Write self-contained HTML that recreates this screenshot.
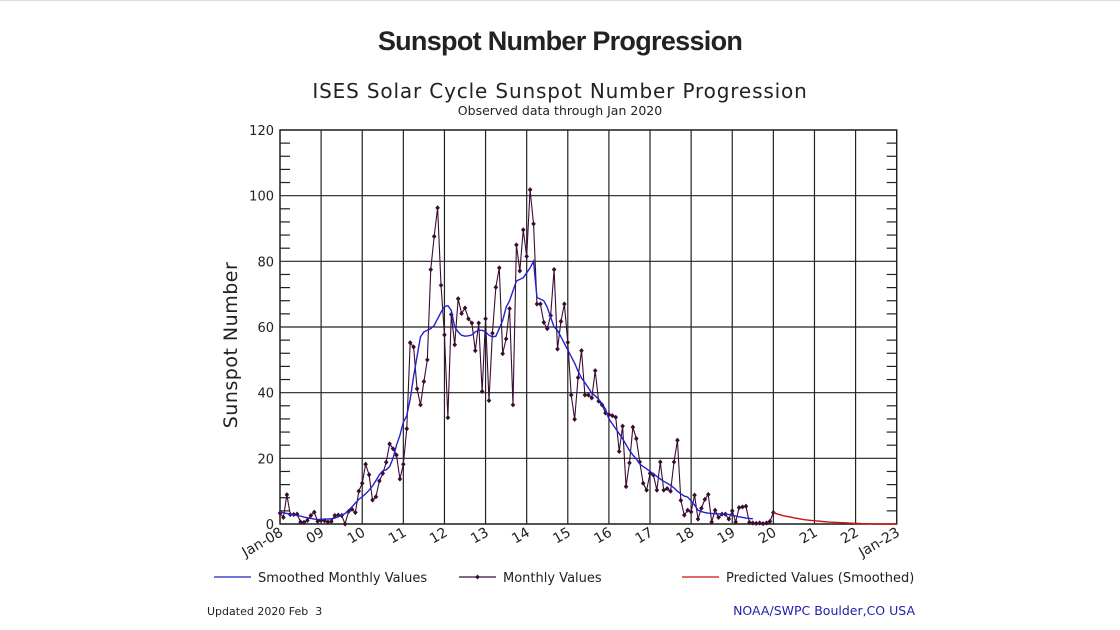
<!DOCTYPE html>
<html><head><meta charset="utf-8">
<style>
html,body{margin:0;padding:0;background:#fff;}
body{width:1120px;height:630px;overflow:hidden;position:relative;}
#topline{position:absolute;left:0;top:0;width:1120px;height:1px;background:#ddd;}
#title{position:absolute;left:0;top:26px;width:1120px;text-align:center;font:bold 27px "Liberation Sans",sans-serif;color:#222;letter-spacing:-0.7px;}
svg{position:absolute;left:0;top:0;}
svg text{font-family:"DejaVu Sans","Liberation Sans",sans-serif;}
</style></head><body>
<div id="topline"></div>
<div id="title">Sunspot Number Progression</div>
<svg id="chart" width="1120" height="630"></svg>
<script>
const yTicks=[0,20,40,60,80,100,120];
const xLabels=["Jan-08","09","10","11","12","13","14","15","16","17","18","19","20","21","22","Jan-23"];
const monthly=[3.3,2.0,8.9,2.9,2.9,3.0,0.6,0.5,1.1,2.6,3.6,0.8,
1.1,1.0,0.6,0.8,2.6,2.7,2.6,0.0,3.8,4.5,3.5,10.0,
12.4,18.2,15.0,7.3,8.3,13.1,15.4,18.8,24.4,22.9,21.0,13.7,
18.2,29.0,55.2,53.9,41.2,36.3,43.4,50.0,77.5,87.6,96.3,72.7,
57.6,32.4,63.8,54.6,68.6,64.1,65.8,62.5,61.2,52.8,61.2,40.4,
62.5,37.6,58.1,72.1,78.0,51.9,56.4,65.6,36.3,85.0,77.1,89.6,
81.5,101.8,91.4,67.0,67.0,61.4,59.5,63.5,77.5,53.3,61.7,67.0,
55.3,39.3,31.9,44.6,52.8,39.3,39.3,38.4,46.7,37.4,36.3,33.8,
33.3,33.0,32.5,22.1,29.8,11.4,18.6,29.5,26.0,18.9,12.4,10.3,
15.4,14.9,10.3,18.9,10.3,10.8,10.0,18.9,25.5,7.2,2.7,4.2,
3.7,8.8,1.5,4.8,7.5,9.0,0.6,4.2,2.0,3.0,3.0,1.5,
4.0,0.6,5.0,5.2,5.4,0.5,0.3,0.2,0.3,0.1,0.3,0.8,3.5];
const smoothed=[3.7,3.4,3.2,3.0,2.8,2.6,2.4,2.1,1.9,1.7,1.5,1.4,
1.4,1.5,1.5,1.6,1.8,2.2,2.7,3.2,4.2,5.2,6.4,7.5,
8.3,9.2,10.3,11.6,13.2,15.0,16.2,16.5,17.5,20,24,27,
31,33,38,45,51,57,58.5,59,59.5,60.5,62.5,64.5,
66.2,66.5,65,60,58.5,57.5,57.2,57.3,57.6,58.5,59,59,
58.5,57.5,57,57.2,59.5,62,66,68,71,74,74.5,75,
76.5,78,80,69,68.5,68,66,63,60,59,57,55,
53,51,49,46.5,44.5,43,41.5,39.8,39,38,36.6,35,
32,30.5,29,27.5,26,24.2,22.4,21,19.8,18.3,17.5,16.8,
16,15.3,14.5,13.7,13,12.4,11.8,11,10,9.2,8.5,8.2,
7,5.8,4.2,3.8,3.5,3.3,3.2,3.1,3.1,3.0,3.0,2.9,
2.6,2.4,2.2,2.0,1.8,1.7,1.6];
const predicted=[3.5,3.1,2.8,2.5,2.3,2.1,1.9,1.7,1.5,1.3,1.2,1.1,
1.0,0.9,0.8,0.7,0.6,0.55,0.5,0.45,0.4,0.35,0.3,0.25,
0.2,0.15,0.1,0.1,0.05,0.05,0,0,0,0,0,0,0];
const predStart=144;

const NS='http://www.w3.org/2000/svg';
const svg=document.getElementById('chart');
const L=280,R=896.7,T=130,B=524;
const x=m=>L+(R-L)*m/180;
const y=v=>B-(B-T)*v/120;
function el(tag,attrs,parent){const e=document.createElementNS(NS,tag);for(const k in attrs)e.setAttribute(k,attrs[k]);(parent||svg).appendChild(e);return e;}
function txt(s,attrs){const e=el('text',attrs);e.textContent=s;return e;}

let t;
t=txt('ISES Solar Cycle Sunspot Number Progression',{x:560,y:98,'text-anchor':'middle','font-size':20,fill:'#222','letter-spacing':'0.85'});


t=txt('Observed data through Jan 2020',{x:560,y:115,'text-anchor':'middle','font-size':12.5,fill:'#222'});



const g=el('g',{stroke:'#222','stroke-width':1.2,fill:'none'});


yTicks.forEach(v=>{el('line',{x1:L,x2:R,y1:y(v),y2:y(v)},g);});
for(let i=0;i<xLabels.length;i++){el('line',{x1:x(i*12),x2:x(i*12),y1:T,y2:B},g);}
for(let v=0;v<=120;v+=4){if(v%20===0)continue;el('line',{x1:L,x2:L+10,y1:y(v),y2:y(v)},g);el('line',{x1:R-10,x2:R,y1:y(v),y2:y(v)},g);}
el('rect',{x:L,y:T,width:R-L,height:B-T,'stroke-width':1.4},g);

yTicks.forEach(v=>{const e=txt(String(v),{x:274,y:y(v)+5,'text-anchor':'end','font-size':13,fill:'#222'});

});
xLabels.forEach((s,i)=>{const px=x(i*12)+4,py=535;const e=txt(s,{x:px,y:py,'text-anchor':'end','font-size':14,fill:'#222',transform:`rotate(-30 ${px} ${py})`});

});
t=txt('Sunspot Number',{x:237,y:345,'text-anchor':'middle','font-size':19,fill:'#222',transform:'rotate(-90 237 345)','letter-spacing':'0.5'});



let p=el('polyline',{points:monthly.map((v,i)=>x(i)+','+y(v)).join(' '),fill:'none',stroke:'#3a0c34','stroke-width':1.1});


const mk=el('g',{fill:'#3a0c34'});


monthly.forEach((v,i)=>{const cx=x(i),cy=y(v);const d=el('polygon',{points:`${cx},${cy-2.6} ${cx+2.3},${cy} ${cx},${cy+2.6} ${cx-2.3},${cy}`},mk);

});
p=el('polyline',{points:smoothed.map((v,i)=>x(i)+','+y(v)).join(' '),fill:'none',stroke:'#2222cc','stroke-width':1.4});


p=el('polyline',{points:predicted.map((v,i)=>x(predStart+i)+','+y(v)).join(' '),fill:'none',stroke:'#cc1111','stroke-width':1.4});



const lg=el('g',{});


el('line',{x1:214,x2:251,y1:577,y2:577,stroke:'#2222cc','stroke-width':1.3},lg);
t=txt('Smoothed Monthly Values',{x:258,y:582,'font-size':13,fill:'#222'});lg.appendChild(t);


el('line',{x1:459,x2:496,y1:577,y2:577,stroke:'#3a0c34','stroke-width':1.3},lg);
el('polygon',{points:'477.5,574.5 479.8,577 477.5,579.5 475.2,577',fill:'#3a0c34'},lg);
t=txt('Monthly Values',{x:503,y:582,'font-size':13,fill:'#222'});lg.appendChild(t);


el('line',{x1:682,x2:719,y1:577,y2:577,stroke:'#cc1111','stroke-width':1.3},lg);
t=txt('Predicted Values (Smoothed)',{x:726,y:582,'font-size':13,fill:'#222'});lg.appendChild(t);



t=txt('Updated 2020 Feb\u00a0\u00a03',{x:207,y:615,'font-size':11,fill:'#222'});


t=txt('NOAA/SWPC Boulder,CO USA',{x:915,y:615,'text-anchor':'end','font-size':12.5,fill:'#2222aa'});


</script>
</body></html>
